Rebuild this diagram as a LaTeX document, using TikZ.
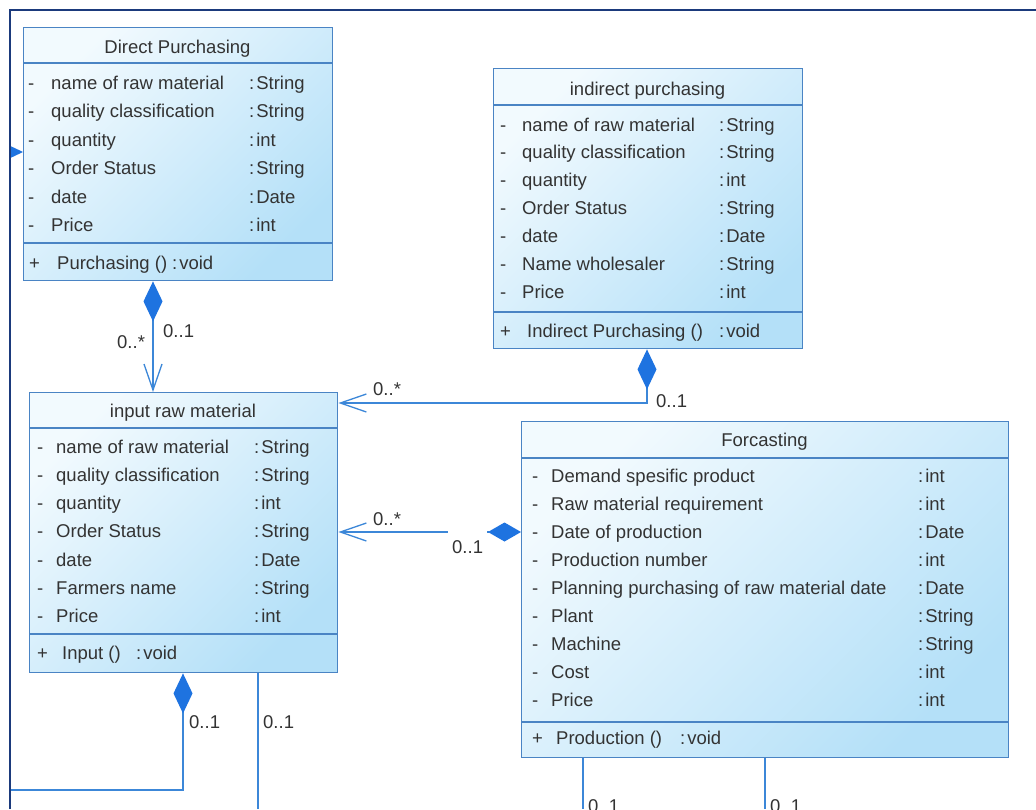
\documentclass[tikz,border=0pt]{standalone}
\usepackage{fontspec}
\setmainfont{Liberation Sans}
\usetikzlibrary{arrows.meta}

\definecolor{boxlight}{HTML}{F2FAFE}
\definecolor{boxdark}{HTML}{B4E0F8}
\definecolor{boxedge}{HTML}{4A84C4}
\definecolor{wire}{HTML}{3C87D8}
\definecolor{diam}{HTML}{1E73E0}
\definecolor{frameblue}{HTML}{1B3A7C}
\definecolor{ink}{HTML}{333333}

\tikzset{
  classbox/.style={draw=boxedge, line width=1.4pt, top color=boxlight,
    bottom color=boxdark, shading angle=45, anchor=north west, inner sep=0pt},
  compart/.style={draw=boxedge, line width=1.4pt},
  txt/.style={font=\fontsize{18.5}{22}\selectfont, text=ink, inner sep=0pt, anchor=base west},
  ttl/.style={txt, anchor=base},
  mult/.style={txt},
  assoc/.style={draw=wire, line width=1.3pt},
  owned/.style={assoc, {Diamond[length=40pt,width=19pt,fill=diam,color=diam]}-},
  ownedarrow/.style={assoc, {Diamond[length=#1,width=19pt,fill=diam,color=diam]}-{Straight Barb[length=26pt,width=18pt]}},
  ownedend/.style={assoc, -{Diamond[length=40pt,width=19pt,fill=diam,color=diam]}},
  frameline/.style={draw=frameblue, line width=2.2pt}
}

\begin{document}
\begin{tikzpicture}[x=1pt, y=-1pt]
\useasboundingbox (0,0) rectangle (1036,809);
\fill[white] (0,0) rectangle (1036,809);

% ---------- Direct Purchasing ----------
\node[classbox, minimum width=309pt, minimum height=253pt] (dp) at (23,27) {};
\coordinate (dph) at ([yshift=-36pt]dp.north west);
\coordinate (dpm) at ([yshift=-216pt]dp.north west);
\draw[compart] (dph) -- (dph -| dp.east);
\draw[compart] (dpm) -- (dpm -| dp.east);
\node[ttl] (dpt) at (177.5,53) {Direct Purchasing};
\foreach \t/\ty [count=\i from 0] in {name of raw material/String,
    quality classification/String, quantity/int, Order Status/String,
    date/Date, Price/int}{
  \node[txt] (dpv\i) at (28, 89+28.5*\i) {-};
  \node[txt] (dpn\i) at (51, 89+28.5*\i) {\t};
  \node[txt] (dpy\i) at (249, 89+28.5*\i) {:\kern2pt\ty};
}
\node[txt] (dpop) at (29,269) {+};
\node[txt] (dpmn) at (57,269) {Purchasing ()};
\node[txt] (dpmt) at (172,269) {:\kern2pt void};

% ---------- indirect purchasing ----------
\node[classbox, minimum width=309pt, minimum height=280pt] (ip) at (493,68) {};
\coordinate (iph) at ([yshift=-37pt]ip.north west);
\coordinate (ipm) at ([yshift=-244pt]ip.north west);
\draw[compart] (iph) -- (iph -| ip.east);
\draw[compart] (ipm) -- (ipm -| ip.east);
\node[ttl] (ipt) at (647.5,95) {indirect purchasing};
\foreach \t/\ty [count=\i from 0] in {name of raw material/String,
    quality classification/String, quantity/int, Order Status/String,
    date/Date, Name wholesaler/String, Price/int}{
  \node[txt] (ipv\i) at (500, 131+27.9*\i) {-};
  \node[txt] (ipn\i) at (522, 131+27.9*\i) {\t};
  \node[txt] (ipy\i) at (719, 131+27.9*\i) {:\kern2pt\ty};
}
\node[txt] (ipop) at (500,337) {+};
\node[txt] (ipmn) at (527,337) {Indirect Purchasing ()};
\node[txt] (ipmt) at (719,337) {:\kern2pt void};

% ---------- input raw material ----------
\node[classbox, minimum width=308pt, minimum height=280pt] (irm) at (29,392) {};
\coordinate (irh) at ([yshift=-36pt]irm.north west);
\coordinate (irmm) at ([yshift=-242pt]irm.north west);
\draw[compart] (irh) -- (irh -| irm.east);
\draw[compart] (irmm) -- (irmm -| irm.east);
\node[ttl] (irt) at (183,417) {input raw material};
\foreach \t/\ty [count=\i from 0] in {name of raw material/String,
    quality classification/String, quantity/int, Order Status/String,
    date/Date, Farmers name/String, Price/int}{
  \node[txt] (irv\i) at (37, 453+28.3*\i) {-};
  \node[txt] (irn\i) at (56, 453+28.3*\i) {\t};
  \node[txt] (iry\i) at (254, 453+28.3*\i) {:\kern2pt\ty};
}
\node[txt] (irop) at (37,659) {+};
\node[txt] (irmn) at (62,659) {Input ()};
\node[txt] (irmt) at (136,659) {:\kern2pt void};

% ---------- Forcasting ----------
\node[classbox, minimum width=487pt, minimum height=336pt] (fc) at (521,421) {};
\coordinate (fch) at ([yshift=-37pt]fc.north west);
\coordinate (fcm) at ([yshift=-301pt]fc.north west);
\draw[compart] (fch) -- (fch -| fc.east);
\draw[compart] (fcm) -- (fcm -| fc.east);
\node[ttl] (fct) at (764.5,446) {Forcasting};
\foreach \t/\ty [count=\i from 0] in {Demand spesific product/int,
    Raw material requirement/int, Date of production/Date,
    Production number/int, Planning purchasing of raw material date/Date,
    Plant/String, Machine/String, Cost/int, Price/int}{
  \node[txt] (fcv\i) at (532, 482+28*\i) {-};
  \node[txt] (fcn\i) at (551, 482+28*\i) {\t};
  \node[txt] (fcy\i) at (918, 482+28*\i) {:\kern2pt\ty};
}
\node[txt] (fcop) at (532,744) {+};
\node[txt] (fcmn) at (556,744) {Production ()};
\node[txt] (fcmt) at (680,744) {:\kern2pt void};

% ---------- associations ----------
\coordinate (lf)  at (-30,152);
\coordinate (bl)  at (10,790);
\coordinate (b1)  at (258,809);
\coordinate (b2)  at (583,809);
\coordinate (b3)  at (765,809);
\coordinate (dpA) at ([xshift=130pt]dp.south west);
\coordinate (irA) at ([xshift=124pt]irm.north west);
\coordinate (ipA) at ([xshift=154pt]ip.south west);
\coordinate (irB) at ([yshift=-11pt]irm.north east);
\coordinate (fcA) at ([yshift=-111pt]fc.north west);
\coordinate (irC) at ([xshift=154pt]irm.south west);
\coordinate (irD) at ([xshift=229pt]irm.south west);
\coordinate (fcB) at ([xshift=62pt]fc.south west);
\coordinate (fcC) at ([xshift=244pt]fc.south west);
\coordinate (dpL) at ([yshift=-125pt]dp.north west);

\begin{scope}
  \clip (10,10) rectangle (1036,809);
  \draw[ownedarrow=40pt] (dpA) -- (irA);
  \draw[ownedarrow=40pt] (ipA) |- (irB);
  \draw[ownedarrow=33pt] (fcA) -- (fcA -| irm.east);
  \draw[owned] (irC) |- (bl);
  \draw[assoc] (irD) -- (b1);
  \draw[assoc] (fcB) -- (b2);
  \draw[assoc] (fcC) -- (b3);
  \draw[ownedend] (lf) -- (dpL);
\end{scope}

% ---------- multiplicities ----------
\node[mult] (m1) at (117,348) {0..*};
\node[mult] (m2) at (163,337) {0..1};
\node[mult] (m3) at (373,395) {0..*};
\node[mult] (m4) at (656,407) {0..1};
\node[mult] (m5) at (373,525) {0..*};
\node[mult, fill=white, inner xsep=4pt, inner ysep=10pt] (m6) at (448,553) {0..1};
\node[mult] (m7) at (189,728) {0..1};
\node[mult] (m8) at (263,728) {0..1};
\node[mult] (m9) at (588,812) {0..1};
\node[mult] (m10) at (770,812) {0..1};

% ---------- frame ----------
\coordinate (fr1) at (10,809);
\coordinate (fr2) at (10,10);
\coordinate (fr3) at (1036,10);
\draw[frameline] (fr1) -- (fr2) -- (fr3);
\end{tikzpicture}
\end{document}
